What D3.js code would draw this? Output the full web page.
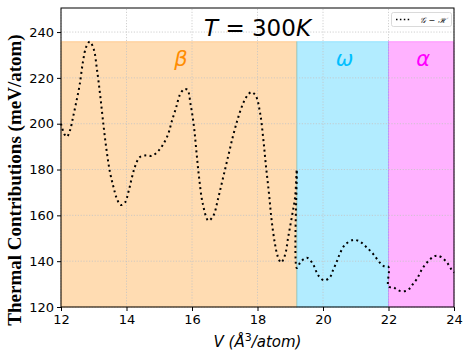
<!DOCTYPE html>
<html lang="en">
<head>
  <meta charset="UTF-8">
  <title>Thermal Contributions</title>
  <script src="https://d3js.org/d3.v7.min.js"></script>
  <style>
    body { margin: 0; background: #fff; }
  </style>
</head>
<body>
  <script>
    // chart size and plot box
    const width = 471;
    const height = 360;
    const margin = { top: 8, right: 17, bottom: 53, left: 61 };

    // data (V in A^3/atom, G-H in meV/atom)
    const betaV = [12.0, 12.1, 12.18, 12.28, 12.37, 12.47, 12.57, 12.67, 12.77, 12.88,
      13.0, 13.1, 13.2, 13.3, 13.4, 13.5, 13.6, 13.7, 13.82, 13.95,
      14.06, 14.16, 14.26, 14.4, 14.6, 14.78, 14.97, 15.12, 15.28, 15.38,
      15.51, 15.63, 15.76, 15.86, 15.96, 16.06, 16.14, 16.22, 16.33, 16.5,
      16.65, 16.8, 16.95, 17.1, 17.25, 17.4, 17.55, 17.7, 17.82, 17.95,
      18.08, 18.18, 18.26, 18.35, 18.43, 18.53, 18.62, 18.72, 18.84, 18.94,
      19.05, 19.15, 19.2];
    const betaG = [200, 195.5, 194.3, 197.3, 203, 209.7, 217, 227, 233.5, 235.8,
      232.5, 223.5, 212, 199, 187.5, 178.5, 172.5, 167.5, 164.5, 165.5,
      170.3, 176.2, 181.3, 185.3, 186.2, 186, 188.1, 191, 195.8, 200.9,
      206.8, 212.6, 215.1, 214.8, 208.2, 198.7, 187.1, 176, 165, 157.7,
      159.8, 167.5, 176.5, 185.5, 194.5, 202.2, 208.5, 212.5, 213.8, 212.1,
      204.6, 192.9, 181.3, 169.6, 158, 147.8, 142, 139.4, 142.7, 150.7,
      159.4, 168.2, 180];

    const omegaV = [19.2, 19.3, 19.42, 19.53, 19.7, 19.81, 19.89, 20.04, 20.21, 20.31,
      20.42, 20.52, 20.67, 20.93, 21.13, 21.33, 21.54, 21.74, 21.89, 22.0];
    const omegaG = [137, 139.3, 141, 141.4, 138.6, 135, 133.2, 131.6, 133, 136.2,
      139.8, 143.4, 147.1, 149.3, 148.5, 146.1, 143, 139.3, 137.6, 137.5];

    const alphaV = [22.0, 22.15, 22.25, 22.38, 22.52, 22.64, 22.76, 22.88, 22.98, 23.11,
      23.25, 23.37, 23.49, 23.62, 23.78, 23.93, 24.0];
    const alphaG = [128.9, 128.6, 127.7, 126.9, 127.0, 128.0, 130.3, 132.5, 135.4, 138.3,
      140.5, 142.0, 142.4, 141.7, 139.5, 136.2, 135];

    // phase regions
    const phaseNames = ["\u03b2", "\u03c9", "\u03b1"];
    const phaseStart = [12, 19.2, 22];
    const phaseEnd = [19.2, 22, 24];
    const phaseColors = ["#ff8c00", "#00bfff", "#ff00ff"];
    const bandTop = 235.8;

    const xTicks = [12, 14, 16, 18, 20, 22, 24];
    const yTicks = [120, 140, 160, 180, 200, 220, 240];

    const svg = d3.select("body")
      .append("svg")
      .attr("width", width)
      .attr("height", height);

    const x = d3.scaleLinear()
      .domain([12, 24])
      .range([margin.left, width - margin.right]);

    const y = d3.scaleLinear()
      .domain([120, 250.5])
      .range([height - margin.bottom, margin.top]);

    // coloured bands for each phase
    svg.append("g")
      .selectAll("rect")
      .data(phaseNames)
      .enter()
      .append("rect")
      .attr("x", (d, i) => x(phaseStart[i]))
      .attr("y", y(bandTop))
      .attr("width", (d, i) => x(phaseEnd[i]) - x(phaseStart[i]))
      .attr("height", y(120) - y(bandTop))
      .attr("fill", (d, i) => phaseColors[i])
      .attr("fill-opacity", 0.3)
      .attr("stroke", (d, i) => phaseColors[i])
      .attr("stroke-opacity", 0.3);

    // dotted grid
    const grid = svg.append("g")
      .attr("stroke", "#c4c4c4")
      .attr("stroke-width", 0.8)
      .attr("stroke-dasharray", "1.2,1.6");
    grid.selectAll(".gx")
      .data(xTicks)
      .enter()
      .append("line")
      .attr("x1", d => x(d)).attr("x2", d => x(d))
      .attr("y1", y.range()[0]).attr("y2", y.range()[1]);
    grid.selectAll(".gy")
      .data(yTicks)
      .enter()
      .append("line")
      .attr("x1", x.range()[0]).attr("x2", x.range()[1])
      .attr("y1", d => y(d)).attr("y2", d => y(d));

    // phase labels
    svg.append("g")
      .selectAll("text")
      .data(phaseNames)
      .enter()
      .append("text")
      .attr("x", (d, i) => x((phaseStart[i] + phaseEnd[i]) / 2) + 2)
      .attr("y", y(225.3))
      .attr("text-anchor", "middle")
      .attr("font-family", "DejaVu Sans")
      .attr("font-style", "italic")
      .attr("font-size", 21)
      .attr("fill", (d, i) => phaseColors[i])
      .text(d => d);

    // the G - H curve, one line through all three phases
    const points = [];
    betaV.forEach((v, i) => points.push([v, betaG[i]]));
    omegaV.forEach((v, i) => points.push([v, omegaG[i]]));
    alphaV.forEach((v, i) => points.push([v, alphaG[i]]));

    const line = d3.line()
      .x(d => x(d[0]))
      .y(d => y(d[1]))
      .curve(d3.curveCatmullRom.alpha(0.5));

    svg.append("path")
      .datum(points)
      .attr("d", line)
      .attr("fill", "none")
      .attr("stroke", "#000")
      .attr("stroke-width", 2)
      .attr("stroke-dasharray", "2,3.3");

    // axes
    const xAxis = svg.append("g")
      .attr("transform", `translate(0,${height - margin.bottom})`)
      .call(d3.axisBottom(x).tickValues(xTicks).tickSize(4).tickPadding(4));
    const yAxis = svg.append("g")
      .attr("transform", `translate(${margin.left},0)`)
      .call(d3.axisLeft(y).tickValues(yTicks).tickSize(4).tickPadding(3));
    [xAxis, yAxis].forEach(g => {
      g.select(".domain").remove();
      g.selectAll("text")
        .attr("font-family", "DejaVu Sans")
        .attr("font-size", 13)
        .attr("fill", "#000");
      g.selectAll("line").attr("stroke", "#000");
    });

    // frame
    svg.append("rect")
      .attr("x", margin.left)
      .attr("y", margin.top)
      .attr("width", width - margin.left - margin.right)
      .attr("height", height - margin.top - margin.bottom)
      .attr("fill", "none")
      .attr("stroke", "#000")
      .attr("stroke-width", 1);

    // title inside the axes
    const title = svg.append("text")
      .attr("x", x(18))
      .attr("y", 35.5)
      .attr("text-anchor", "middle")
      .attr("font-family", "DejaVu Sans")
      .attr("font-size", 23)
      .attr("fill", "#000");
    title.append("tspan").attr("font-style", "italic").text("T");
    title.append("tspan").text(" = 300");
    title.append("tspan").attr("font-style", "italic").text("K");

    // axis titles
    const xLabel = svg.append("text")
      .attr("x", x(18))
      .attr("y", 347)
      .attr("text-anchor", "middle")
      .attr("font-family", "DejaVu Sans")
      .attr("font-size", 15)
      .attr("font-style", "italic")
      .attr("fill", "#000");
    xLabel.append("tspan").text("V (\u00c5");
    xLabel.append("tspan").attr("dy", -6).attr("font-size", 11).attr("font-style", "normal").text("3");
    xLabel.append("tspan").attr("dy", 6).text("/atom)");

    svg.append("text")
      .attr("transform", "translate(20.5,180) rotate(-90)")
      .attr("text-anchor", "middle")
      .attr("font-family", "Liberation Serif")
      .attr("font-weight", "bold")
      .attr("font-size", 19)
      .attr("fill", "#000")
      .text("Thermal Contributions (meV/atom)");

    // legend
    const legend = svg.append("g");
    legend.append("rect")
      .attr("x", 391.5)
      .attr("y", 12.5)
      .attr("width", 60)
      .attr("height", 14)
      .attr("rx", 2)
      .attr("fill", "#fff")
      .attr("stroke", "#d0d0d0")
      .attr("stroke-width", 0.8);
    legend.append("line")
      .attr("x1", 396).attr("x2", 410)
      .attr("y1", 19.5).attr("y2", 19.5)
      .attr("stroke", "#000")
      .attr("stroke-width", 1.5)
      .attr("stroke-dasharray", "1.5,2.4");
    legend.append("text")
      .attr("x", 420)
      .attr("y", 22.5)
      .attr("font-family", "DejaVu Serif")
      .attr("font-style", "italic")
      .attr("font-size", 8)
      .attr("fill", "#000")
      .text("\ud835\udca2 \u2212 \u210b");
  </script>
</body>
</html>
